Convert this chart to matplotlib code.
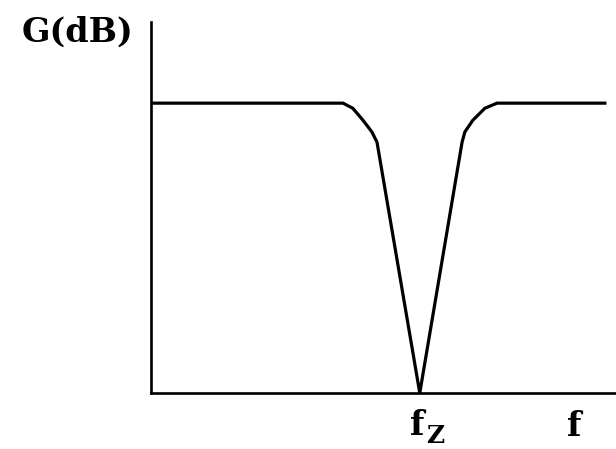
import matplotlib.pyplot as plt
import numpy as np

# notch (band-stop) response, arbitrary units
f = [0.02, 4.13, 4.34, 4.56, 4.75, 4.86, 5.78, 6.69, 6.75, 6.92, 7.18, 7.44, 9.76]
G = [6.25, 6.25, 6.14, 5.88, 5.63, 5.41, 0.0, 5.41, 5.63, 5.88, 6.14, 6.25, 6.25]
fz = 5.78

fig = plt.figure(figsize=(6.16, 4.49), dpi=100)
ax = fig.add_axes([151/616, 56/449, 465/616, 371/449])
ax.plot(f, G, color="black", lw=2.3, solid_joinstyle="round")
ax.set_xlim(0, 10)
ax.set_ylim(0, 8.0)
for s in ["top", "right"]:
    ax.spines[s].set_visible(False)
ax.spines["left"].set_linewidth(1.9)
ax.spines["bottom"].set_linewidth(1.9)
ax.set_xticks([])
ax.set_yticks([])

lbl = dict(family="DejaVu Serif", weight="bold", va="baseline", ha="left")
fig.text(22/616, 1 - 42/449, "G(dB)", fontsize=24, **lbl)
fig.text(410/616, 1 - 435/449, "f", fontsize=24, **lbl)
fig.text(426/616, 1 - 443/449, "Z", fontsize=18, **lbl)
fig.text(567/616, 1 - 436/449, "f", fontsize=24, **lbl)

fig.savefig("out.png", dpi=100)
